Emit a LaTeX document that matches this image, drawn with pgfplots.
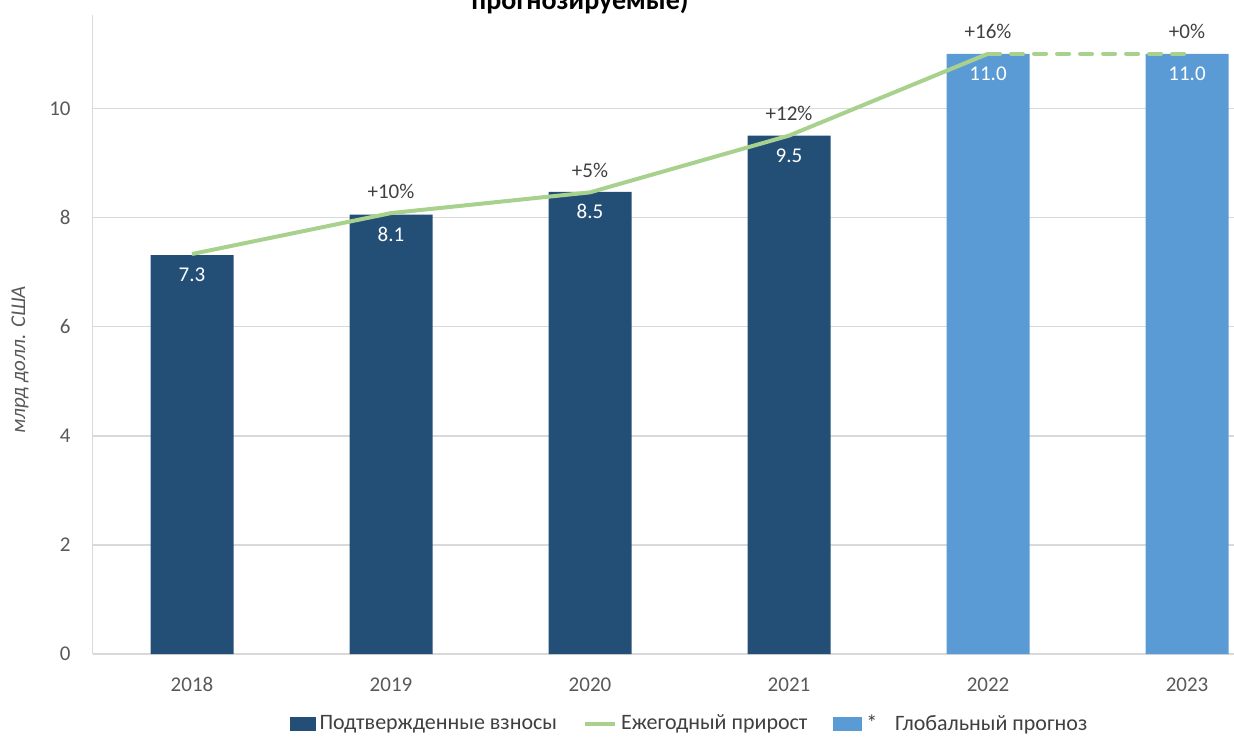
\documentclass[border=0pt]{standalone}
\usepackage{pgfplots}
\pgfplotsset{compat=1.18}
\usepackage{fontspec}
\setmainfont{Carlito}
\pgfplotsset{/pgf/number format/assume math mode=true}
\definecolor{cdark}{HTML}{234F77}
\definecolor{clight}{HTML}{5B9BD5}
\definecolor{cgreen}{HTML}{A9D18E}
\definecolor{ctick}{HTML}{595959}
\definecolor{cgrid}{HTML}{D9D9D9}
\definecolor{clab}{HTML}{404040}
\begin{document}
\begin{tikzpicture}
\useasboundingbox (0,0) rectangle (617pt,368pt);
\begin{axis}[
  at={(46.25pt,41pt)}, anchor=south west,
  scale only axis, width=570.75pt, height=319.5pt,
  xmin=-0.5, xmax=5.236, ymin=0, ymax=11.71,
  axis lines*=left,
  axis line style={cgrid, line width=0.8pt, -},
  xtick={0,1,2,3,4,5},
  xticklabels={2018,2019,2020,2021,2022,2023},
  ytick={0,2,4,6,8,10},
  major tick length=0pt,
  ymajorgrids, grid style={cgrid, line width=0.8pt},
  tick label style={font=\fontsize{10.5}{12}\selectfont, text=ctick},
  yticklabel style={inner sep=0pt, xshift=-10.75pt},
  xticklabel style={inner sep=0pt, yshift=-11.5pt},
  ylabel={млрд долл. США},
  ylabel style={at={(-0.0635,0.46)}, anchor=center, font=\itshape\fontsize{10.5}{12}\selectfont, text=ctick},
  legend columns=3,
  legend style={at={(0.5239,-0.1095)}, anchor=center, draw=none, fill=none,
    font=\fontsize{11}{13}\selectfont, text=clab, inner sep=0pt,
    /tikz/every even column/.append style={column sep=11pt}},
  legend cell align=left,
  clip=false,
]
\addplot[ybar, bar width=41.5pt, bar shift=0pt, fill=cdark, draw=none,
  nodes near coords={\pgfmathprintnumber[fixed,fixed zerofill,precision=1]{\pgfplotspointmeta}},
  every node near coord/.append style={anchor=center, yshift=-10pt, text=white, font=\fontsize{10.5}{12}\selectfont},
  forget plot]
  coordinates {(0,7.31) (1,8.05) (2,8.47) (3,9.50)};
\addplot[ybar, bar width=41.5pt, bar shift=0pt, fill=clight, draw=none,
  nodes near coords={\pgfmathprintnumber[fixed,fixed zerofill,precision=1]{\pgfplotspointmeta}},
  every node near coord/.append style={anchor=center, yshift=-10pt, text=white, font=\fontsize{10.5}{12}\selectfont},
  forget plot]
  coordinates {(4,11.0) (5,11.0)};
\addplot[cgreen, line width=2pt, line join=round, mark=none,
  point meta=explicit symbolic, nodes near coords,
  every node near coord/.append style={anchor=center, yshift=11pt, text=clab, font=\fontsize{10.5}{12}\selectfont},
  forget plot]
  table[meta=lab] {
x y lab
0 7.33 {}
1 8.08 +10\%
2 8.46 +5\%
3 9.50 +12\%
4 11.0 +16\%
};
\addplot[cgreen, line width=2pt, line cap=round, dash pattern=on 6pt off 5.5pt, mark=none,
  point meta=explicit symbolic, nodes near coords,
  every node near coord/.append style={anchor=center, yshift=11pt, text=clab, font=\fontsize{10.5}{12}\selectfont},
  forget plot]
  table[meta=lab] {
x y lab
4 11.0 {}
5 11.0 +0\%
};
\addlegendimage{legend image code/.code={\fill[cdark] (0pt,-3pt) rectangle (12.5pt,3.5pt);}}
\addlegendentry{Подтвержденные взносы}
\addlegendimage{legend image code/.code={\draw[cgreen, line width=2pt] (0pt,0pt) -- (15pt,0pt);}}
\addlegendentry{Ежегодный прирост}
\addlegendimage{legend image code/.code={\fill[clight] (0pt,-3pt) rectangle (14pt,3.5pt);}}
\addlegendentry{*\hspace{9pt}Глобальный прогноз}
\end{axis}
\node[font=\bfseries\fontsize{14}{16}\selectfont, anchor=base] at (290pt,363pt) {прогнозируемые)};
\end{tikzpicture}
\end{document}
